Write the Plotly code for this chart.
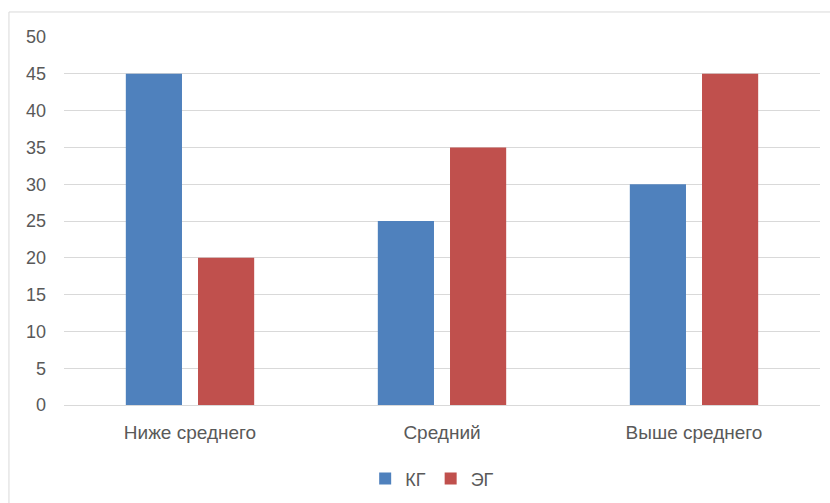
import plotly.graph_objects as go

categories = ["Ниже среднего", "Средний", "Выше среднего"]
kg_values = [45, 25, 30]
eg_values = [20, 35, 45]
series_names = ["КГ", "ЭГ"]
y_ticks = [0, 5, 10, 15, 20, 25, 30, 35, 40, 45, 50]

BLUE = "#4F81BD"
RED = "#C0504D"
TEXT = "#595959"
GRID = "#D9D9D9"
FONT = "Liberation Sans Narrow, Liberation Sans, Arial, sans-serif"

fig = go.Figure()
fig.add_trace(go.Bar(x=categories, y=kg_values, name=series_names[0],
                     marker=dict(color=BLUE, line=dict(width=0))))
fig.add_trace(go.Bar(x=categories, y=eg_values, name=series_names[1],
                     marker=dict(color=RED, line=dict(width=0))))

fig.update_layout(
    width=830, height=503,
    margin=dict(l=64, r=10, t=37, b=98, autoexpand=False),
    paper_bgcolor="white", plot_bgcolor="white",
    barmode="group", bargap=0.427, bargroupgap=0.222,
    font=dict(family=FONT, color=TEXT, size=18),
    showlegend=True,
    legend=dict(orientation="h", x=0.487, xanchor="center",
                yref="container", y=0.048, yanchor="middle",
                font=dict(size=18, color=TEXT), itemwidth=30, traceorder="normal"),
    xaxis=dict(showgrid=False, showline=True, linecolor=GRID, linewidth=1,
               ticks="", tickfont=dict(size=19, color=TEXT), ticklabelstandoff=10,
               automargin=False, fixedrange=True),
    yaxis=dict(range=[0, 50], tickvals=y_ticks, showgrid=True, gridcolor=GRID,
               gridwidth=1, zeroline=False, showline=False, ticks="",
               tickfont=dict(size=18, color=TEXT), ticklabelstandoff=17,
               automargin=False, fixedrange=True),
    shapes=[dict(type="rect", xref="paper", yref="paper",
                 x0=-0.0728, x1=1.2, y0=-0.6, y1=1.068,
                 line=dict(color=GRID, width=1), fillcolor="rgba(0,0,0,0)",
                 layer="below")],
)

fig.write_html("out.html")
